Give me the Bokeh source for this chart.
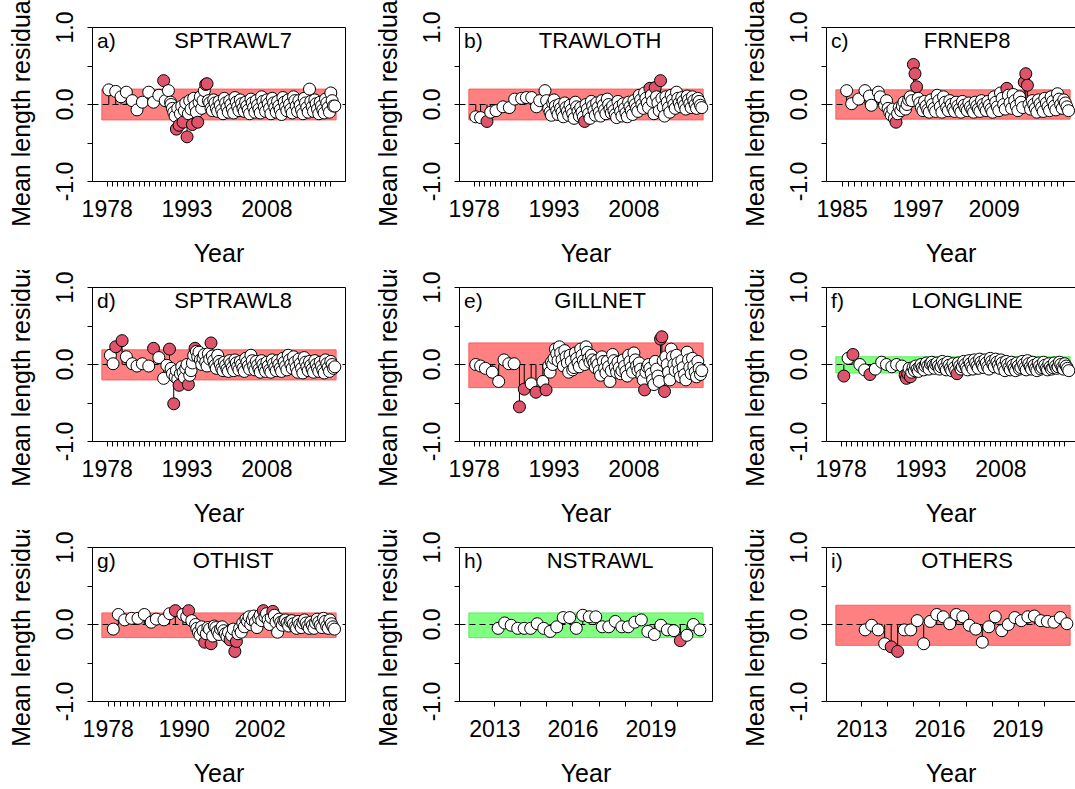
from bokeh.plotting import figure
from bokeh.models import FixedTicker, Label, LinearAxis, Range1d
from bokeh.layouts import row, column
from bokeh.embed import file_html
from bokeh.resources import INLINE

# ---------------- data ----------------
# a) SPTRAWL7
a_early_x = [1978.3, 1979.6, 1980.6, 1981.6, 1982.7, 1983.6, 1984.6, 1985.8, 1986.7, 1987.7, 1988.6, 1988.9, 1989.5, 1989.9]
a_early_y = [0.19, 0.17, 0.10, 0.16, 0.05, -0.07, 0.03, 0.16, 0.03, 0.12, 0.31, 0.05, 0.18, 0.03]
a_q_start = 1990.0
a_q_res = [0.00, -0.05, -0.10, -0.15, -0.32, -0.05, -0.27, -0.12, -0.02, -0.23, -0.08, 0.02,
           -0.42, -0.12, 0.05, -0.06, -0.26, 0.08, -0.02, -0.10, -0.23, 0.03, 0.10, -0.05,
           0.05, 0.18, 0.26, 0.27, 0.05, 0.02, -0.05, -0.08, 0.06, 0.02, -0.05, -0.09,
           0.04, -0.01, -0.07, -0.12, 0.08, 0.02, -0.04, -0.10, 0.05, 0.00, -0.06, -0.11,
           0.09, 0.03, -0.03, -0.08, 0.06, 0.01, -0.05, -0.09, 0.03, -0.02, -0.07, -0.12,
           0.07, 0.02, -0.04, -0.10, 0.05, -0.01, -0.06, -0.11, 0.10, 0.04, -0.03, -0.09,
           0.06, 0.01, -0.05, -0.12, 0.08, 0.02, -0.04, -0.10, 0.04, -0.02, -0.07, -0.13,
           0.09, 0.03, -0.03, -0.08, 0.06, 0.00, -0.06, -0.11, 0.10, 0.05, -0.02, -0.09,
           0.05, -0.01, -0.07, -0.12, 0.08, 0.02, -0.04, -0.10, 0.20, 0.04, -0.03, -0.09,
           0.06, 0.01, -0.06, -0.12, 0.03, -0.02, -0.07, -0.11, 0.07, 0.02, -0.04, -0.10,
           0.15, 0.05, -0.02, -0.02]
a_band = [-0.20, 0.20]

# b) TRAWLOTH
b_early_x = [1978.3, 1979.2, 1980.4, 1981.1, 1982.1, 1983.4, 1984.6, 1985.6, 1986.9, 1987.8, 1988.8, 1989.7, 1990.3, 1991.3, 1991.6]
b_early_y = [-0.16, -0.17, -0.22, -0.10, -0.08, -0.03, -0.04, 0.07, 0.08, 0.09, 0.09, -0.03, 0.05, 0.18, 0.05]
b_q_start = 1992.0
b_q_res = [-0.05, -0.10, -0.14, 0.02, 0.06, -0.02, -0.08, -0.13, 0.00, -0.05, -0.10, -0.16,
           0.02, -0.04, -0.09, -0.14, -0.01, -0.07, -0.12, -0.18, 0.03, -0.03, -0.09, -0.15,
           -0.04, -0.10, -0.16, -0.22, 0.00, -0.06, -0.12, -0.18, 0.04, -0.02, -0.08, -0.14,
           0.02, -0.04, -0.10, -0.15, 0.05, -0.01, -0.07, -0.12, 0.07, 0.00, -0.06, -0.11,
           -0.02, -0.08, -0.13, -0.17, 0.04, -0.03, -0.09, -0.15, 0.01, -0.05, -0.11, -0.16,
           0.03, -0.03, -0.08, -0.13, 0.05, 0.00, -0.05, -0.09, 0.12, 0.06, 0.00, -0.05,
           0.15, 0.08, 0.02, -0.04, 0.21, 0.12, 0.04, -0.12, 0.22, 0.10, 0.02, -0.08,
           0.31, 0.08, -0.03, -0.15, 0.10, 0.03, -0.04, -0.10, 0.12, 0.06, 0.00, -0.05,
           0.16, 0.08, 0.02, -0.03, 0.09, 0.04, -0.01, -0.06, 0.11, 0.06, 0.01, -0.04,
           0.10, 0.05, 0.00, -0.05, 0.08, 0.04, -0.01, -0.04]
b_band = [-0.20, 0.20]

# c) FRNEP8
c_early_x = [1985.7, 1986.5, 1987.6, 1988.6, 1989.3, 1989.6, 1990.7, 1991.0, 1991.7]
c_early_y = [0.18, 0.01, 0.07, 0.18, 0.11, -0.01, 0.16, 0.10, -0.01]
c_q_start = 1992.0
c_q_res = [0.05, -0.05, -0.10, -0.14, -0.06, -0.18, -0.23, -0.12, -0.04, -0.08, -0.02, 0.03,
           -0.06, 0.00, 0.06, 0.10, 0.05, 0.52, 0.40, 0.23, 0.08, 0.02, -0.04, -0.08,
           0.04, -0.02, -0.07, -0.10, 0.06, 0.00, -0.05, -0.09, 0.12, 0.05, -0.03, -0.10,
           0.10, 0.03, -0.04, -0.08, 0.05, 0.00, -0.05, -0.09, 0.03, -0.02, -0.06, -0.10,
           0.04, -0.01, -0.05, -0.08, 0.02, -0.03, -0.07, -0.10, 0.03, -0.02, -0.06, -0.09,
           0.05, 0.00, -0.04, -0.08, 0.04, -0.01, -0.06, -0.10, 0.10, 0.03, -0.03, -0.08,
           0.15, 0.08, 0.00, -0.06, 0.21, 0.12, 0.02, -0.05, 0.13, 0.05, -0.02, -0.08,
           0.10, 0.03, -0.04, 0.29, 0.40, 0.25, 0.00, -0.06, 0.05, 0.00, -0.05, -0.10,
           0.06, 0.01, -0.04, -0.09, 0.08, 0.02, -0.03, -0.08, 0.10, 0.04, -0.02, -0.07,
           0.14, 0.07, 0.00, -0.05, 0.06, 0.02, -0.03, -0.08]
c_band = [-0.19, 0.19]

# d) SPTRAWL8
d_early_x = [1978.6, 1979.1, 1979.6, 1980.8, 1981.6, 1982.7, 1983.6, 1984.6, 1985.8, 1986.7, 1987.7, 1988.6, 1989.2, 1989.7]
d_early_y = [0.12, 0.01, 0.23, 0.31, 0.10, 0.01, -0.02, 0.01, -0.02, 0.21, 0.09, -0.18, -0.01, 0.20]
d_q_start = 1990.0
d_q_res = [-0.05, -0.12, -0.51, -0.16, -0.08, -0.19, -0.27, -0.12, -0.03, -0.10, -0.17, -0.05,
           0.00, -0.26, -0.14, -0.08, 0.02, 0.12, 0.21, 0.17, 0.10, 0.16, 0.06, 0.00,
           0.08, 0.13, 0.03, -0.02, 0.14, 0.07, 0.28, 0.11, 0.05, -0.01, -0.05, 0.12,
           0.04, 0.00, -0.05, -0.08, 0.03, -0.01, -0.06, -0.09, 0.05, 0.01, -0.04, -0.08,
           0.06, 0.02, -0.03, -0.07, 0.04, 0.00, -0.05, -0.09, 0.08, 0.03, -0.02, -0.06,
           0.12, 0.05, -0.02, -0.07, 0.04, -0.01, -0.06, -0.10, 0.05, 0.00, -0.05, -0.09,
           0.03, -0.02, -0.07, -0.10, 0.06, 0.01, -0.04, -0.08, 0.05, 0.00, -0.05, -0.09,
           0.08, 0.03, -0.02, -0.07, 0.12, 0.06, 0.00, -0.05, 0.10, 0.03, -0.04, -0.10,
           0.07, 0.01, -0.05, -0.11, 0.09, 0.03, -0.03, -0.08, 0.04, -0.01, -0.06, -0.10,
           0.05, 0.00, -0.05, -0.09, 0.03, -0.02, -0.07, -0.11, 0.06, 0.01, -0.04, -0.09,
           0.04, 0.00, -0.05, -0.03]
d_band = [-0.20, 0.19]

# e) GILLNET
e_early_x = [1978.3, 1979.2, 1980.1, 1981.4, 1982.6, 1983.6, 1984.5, 1985.5, 1986.5, 1987.4, 1988.7, 1989.6, 1990.9, 1991.5]
e_early_y = [0.00, -0.02, -0.05, -0.10, -0.22, 0.06, 0.01, 0.01, -0.55, -0.32, -0.25, -0.36, -0.22, -0.33]
e_q_start = 1992.0
e_q_res = [-0.02, -0.10, 0.03, 0.00, 0.08, 0.20, 0.14, 0.05, 0.23, 0.15, 0.06, -0.02,
           0.18, 0.10, 0.02, -0.10, 0.12, 0.04, -0.07, -0.04, 0.15, 0.08, 0.02, -0.03,
           0.20, 0.12, 0.05, 0.00, 0.23, 0.16, 0.08, 0.03, 0.12, 0.06, 0.02, -0.04,
           0.05, 0.00, -0.08, -0.14, 0.10, 0.04, -0.05, -0.11, 0.04, -0.03, -0.22, -0.08,
           0.13, 0.05, -0.03, -0.10, 0.03, -0.04, -0.12, -0.08, 0.06, -0.02, -0.09, -0.15,
           0.12, 0.04, -0.04, -0.10, 0.15, 0.06, -0.02, -0.08, 0.02, -0.06, -0.14, -0.20,
           -0.33, -0.10, -0.03, 0.00, -0.05, -0.12, -0.20, -0.26, 0.04, -0.06, -0.15, -0.22,
           0.33, 0.36, 0.05, -0.35, 0.10, 0.00, -0.10, -0.20, 0.20, 0.10, 0.00, -0.08,
           0.12, 0.02, -0.08, -0.16, 0.05, -0.04, -0.13, -0.20, 0.16, 0.06, -0.04, -0.12,
           0.08, -0.02, -0.10, -0.16, 0.04, -0.05, -0.13, -0.08]
e_band = [-0.30, 0.28]

# f) LONGLINE
f_early_x = [1978.5, 1979.3, 1980.2, 1981.5, 1982.4, 1983.4, 1984.4, 1985.6, 1986.5, 1987.5, 1988.4, 1989.4]
f_early_y = [-0.15, 0.08, 0.13, 0.00, -0.07, -0.13, -0.06, 0.03, 0.00, -0.03, 0.00, -0.02]
f_q_start = 1990.0
f_q_res = [-0.14, -0.18, -0.12, -0.05, -0.16, -0.10, -0.04, -0.08, -0.02, -0.06, -0.09, -0.03,
           0.00, -0.04, -0.07, -0.02, 0.02, -0.02, -0.06, 0.01, 0.03, -0.01, -0.05, 0.00,
           0.02, -0.02, -0.06, -0.03, 0.04, 0.00, -0.04, -0.07, 0.03, -0.01, -0.05, -0.08,
           0.01, -0.04, -0.08, -0.12, 0.02, -0.02, -0.06, -0.03, 0.04, 0.00, -0.04, -0.07,
           0.05, 0.01, -0.03, -0.06, 0.06, 0.02, -0.02, -0.05, 0.07, 0.03, -0.01, -0.04,
           0.06, 0.02, -0.03, -0.06, 0.08, 0.04, 0.00, -0.03, 0.07, 0.03, -0.01, -0.05,
           0.06, 0.02, -0.03, -0.08, 0.04, 0.00, -0.04, -0.07, 0.03, -0.01, -0.05, -0.08,
           0.02, -0.02, -0.06, -0.04, 0.04, 0.00, -0.04, -0.07, 0.05, 0.01, -0.03, -0.06,
           0.03, -0.01, -0.05, -0.08, 0.02, -0.02, -0.06, -0.04, 0.03, -0.01, -0.05, -0.07,
           0.01, -0.03, -0.06, -0.04, 0.02, -0.02, -0.05, -0.03, 0.03, 0.00, -0.04, -0.06,
           0.01, -0.02, -0.05, -0.08]
f_band = [-0.11, 0.10]

# g) OTHIST
g_early_x = [1978.8, 1979.6, 1980.6, 1981.7, 1982.7, 1983.7, 1984.8, 1985.6, 1986.8, 1987.7, 1988.6, 1989.8, 1990.4, 1990.7, 1991.2, 1991.8]
g_early_y = [-0.06, 0.13, 0.06, 0.08, 0.08, 0.13, 0.03, 0.07, 0.06, 0.14, 0.18, 0.13, 0.10, 0.18, 0.05, 0.00]
g_q_start = 1992.0
g_q_res = [-0.05, -0.10, -0.14, -0.03, -0.08, -0.23, -0.12, -0.04, -0.06, -0.25, -0.15, -0.02,
           -0.04, -0.09, -0.13, -0.06, -0.03, -0.08, -0.12, -0.16, -0.10, -0.20, -0.14, -0.06,
           -0.35, -0.22, -0.12, -0.05, -0.10, 0.02, -0.03, 0.07, 0.04, 0.10, 0.00, 0.06,
           0.11, 0.03, -0.04, 0.08, 0.12, 0.05, 0.18, 0.10, 0.14, 0.06, 0.00, 0.09,
           0.17, 0.12, 0.03, -0.10, 0.07, 0.03, -0.01, 0.05, 0.06, 0.02, -0.02, 0.04,
           0.05, 0.01, -0.03, -0.05, 0.04, 0.00, -0.04, 0.02, 0.06, 0.02, -0.02, -0.05,
           0.03, -0.01, -0.05, 0.02, 0.07, 0.03, -0.01, -0.04, 0.08, 0.04, -0.02, -0.05,
           0.06, 0.01, -0.03, -0.06]
g_band = [-0.17, 0.15]

# h) NSTRAWL (quarterly)
h_q_start = 2013.125
h_q_res = [-0.05, 0.02, -0.01, -0.05, -0.05, -0.05, 0.01, -0.05, -0.09, -0.03, 0.09, 0.09,
           -0.05, 0.12, 0.10, 0.10, -0.03, -0.03, 0.04, -0.03, -0.03, 0.03, 0.06, -0.09,
           -0.13, -0.01, -0.07, -0.08, -0.21, -0.14, 0.00, -0.07]
h_band = [-0.17, 0.15]

# i) OTHERS (quarterly)
i_q_start = 2013.125
i_q_res = [-0.07, -0.01, -0.07, -0.25, -0.29, -0.35, -0.07, -0.07, 0.05, -0.25, 0.04, 0.13,
           0.10, 0.01, 0.13, 0.10, -0.01, -0.06, -0.23, -0.03, 0.10, -0.08, 0.00, 0.09,
           0.05, 0.10, 0.11, 0.05, 0.04, 0.03, 0.09, 0.01]
i_band = [-0.27, 0.25]

# axis settings per panel
lim_long = [1977, 2021]
lim_c = [1984, 2021]
lim_g = [1977, 2014]
lim_short = [2012, 2021]
labels_long = [1978, 1993, 2008]
labels_c = [1985, 1997, 2009]
labels_g = [1978, 1990, 2002]
labels_short = [2013, 2016, 2019]

# ---------------- styling / layout ----------------
FONT = "Liberation Sans"
RED_PT = "#DF536B"
RED_BAND = "#FF8080"
RED_EDGE = "#FF5C5C"
GREEN_BAND = "#80FF80"
GREEN_EDGE = "#5CF05C"
CELL_W = 367
LAST_W = 341
FRAME_W = 253
FRAME_H = 154
LEFT = 92
ROW_H = [270, 260, 259]
ROW_TOP = [27, 17, 17]


def quarterly(start, vals):
    return [start + 0.25 * i for i in range(len(vals))]


def make_panel(letter, name, xs, ys, lim, label_years, band, green, col, rowi):
    lo, hi = lim
    pad = 0.04 * (hi - lo)
    x0, x1 = lo - pad, hi + pad
    if col == 2:
        width, mbr = LAST_W, 0
        x1v = x0 + (x1 - x0) * (LAST_W - LEFT) / FRAME_W
    else:
        width, mbr = CELL_W, CELL_W - LEFT - FRAME_W
        x1v = x1
    h = ROW_H[rowi]
    top = ROW_TOP[rowi]
    p = figure(width=width, height=h, x_range=Range1d(x0, x1v), y_range=Range1d(-1, 1),
               output_backend="svg", toolbar_location=None,
               min_border_left=LEFT, min_border_right=mbr, min_border_top=top,
               min_border_bottom=h - top - FRAME_H)
    p.background_fill_color = "white"
    p.border_fill_color = "white"
    p.xgrid.visible = False
    p.ygrid.visible = False

    fill = GREEN_BAND if green else RED_BAND
    edge = GREEN_EDGE if green else RED_EDGE
    p.quad(left=lo, right=hi, bottom=band[0], top=band[1], fill_color=fill, line_color=edge, line_width=1)
    p.line(x=[x0, x1], y=[0, 0], line_color="black", line_width=1, line_dash="6 4")
    n = len(xs)
    p.segment(x0=xs, y0=[0] * n, x1=xs, y1=ys, line_color="black", line_width=1)
    cols = [RED_PT if (v > band[1] or v < band[0]) else "white" for v in ys]
    p.scatter(x=xs, y=ys, size=12, marker="circle", fill_color=cols, line_color="black", line_width=1)

    tick_years = list(range(label_years[0], int(hi)))
    p.xaxis.ticker = FixedTicker(ticks=tick_years, minor_ticks=[])
    p.xaxis.major_label_overrides = {t: (str(t) if t in label_years else "") for t in tick_years}
    p.yaxis.ticker = FixedTicker(ticks=[-1, -0.5, 0, 0.5, 1], minor_ticks=[])
    p.yaxis.major_label_overrides = {-1: "-1.0", -0.5: "", 0: "0.0", 0.5: "", 1: "1.0"}
    p.yaxis.major_label_orientation = "vertical"
    p.xaxis.axis_label = "Year"
    p.yaxis.axis_label = "Mean length residuals"
    for ax in (p.xaxis[0], p.yaxis[0]):
        ax.axis_line_color = "black"
        ax.major_tick_line_color = "black"
        ax.major_tick_out = 5
        ax.major_tick_in = 0
        ax.minor_tick_out = 0
        ax.major_label_text_font = FONT
        ax.major_label_text_font_size = "23px"
        ax.major_label_text_color = "black"
        ax.axis_label_text_font = FONT
        ax.axis_label_text_font_size = "25px"
        ax.axis_label_text_font_style = "normal"
        ax.axis_label_text_color = "black"
    p.xaxis.major_label_standoff = 13
    p.xaxis.axis_label_standoff = 19
    p.yaxis.major_label_standoff = 15
    p.yaxis.axis_label_standoff = 18

    if col == 2:
        p.outline_line_color = None
        topax = LinearAxis(ticker=FixedTicker(ticks=[]), axis_line_color="black",
                           major_tick_line_color=None, minor_tick_line_color=None,
                           major_label_text_font_size="0px")
        p.add_layout(topax, "above")
    else:
        p.outline_line_color = "black"
        p.outline_line_width = 1

    p.add_layout(Label(x=x0 + 0.018 * (x1 - x0), y=0.83, text=letter + ")", text_align="left",
                       text_baseline="middle", text_font=FONT, text_font_size="21px", text_color="black"))
    p.add_layout(Label(x=x0 + 0.556 * (x1 - x0), y=0.83, text=name, text_align="center",
                       text_baseline="middle", text_font=FONT, text_font_size="22px", text_color="black"))
    return p


pa = make_panel("a", "SPTRAWL7", a_early_x + quarterly(a_q_start, a_q_res), a_early_y + a_q_res,
                lim_long, labels_long, a_band, False, 0, 0)
pb = make_panel("b", "TRAWLOTH", b_early_x + quarterly(b_q_start, b_q_res), b_early_y + b_q_res,
                lim_long, labels_long, b_band, False, 1, 0)
pc = make_panel("c", "FRNEP8", c_early_x + quarterly(c_q_start, c_q_res), c_early_y + c_q_res,
                lim_c, labels_c, c_band, False, 2, 0)
pd = make_panel("d", "SPTRAWL8", d_early_x + quarterly(d_q_start, d_q_res), d_early_y + d_q_res,
                lim_long, labels_long, d_band, False, 0, 1)
pe = make_panel("e", "GILLNET", e_early_x + quarterly(e_q_start, e_q_res), e_early_y + e_q_res,
                lim_long, labels_long, e_band, False, 1, 1)
pf = make_panel("f", "LONGLINE", f_early_x + quarterly(f_q_start, f_q_res), f_early_y + f_q_res,
                lim_long, labels_long, f_band, True, 2, 1)
pg = make_panel("g", "OTHIST", g_early_x + quarterly(g_q_start, g_q_res), g_early_y + g_q_res,
                lim_g, labels_g, g_band, False, 0, 2)
ph = make_panel("h", "NSTRAWL", quarterly(h_q_start, h_q_res), h_q_res,
                lim_short, labels_short, h_band, True, 1, 2)
pi = make_panel("i", "OTHERS", quarterly(i_q_start, i_q_res), i_q_res,
                lim_short, labels_short, i_band, False, 2, 2)

layout = column(row(pa, pb, pc), row(pd, pe, pf), row(pg, ph, pi))
open("out.html", "w").write(file_html(layout, INLINE))
